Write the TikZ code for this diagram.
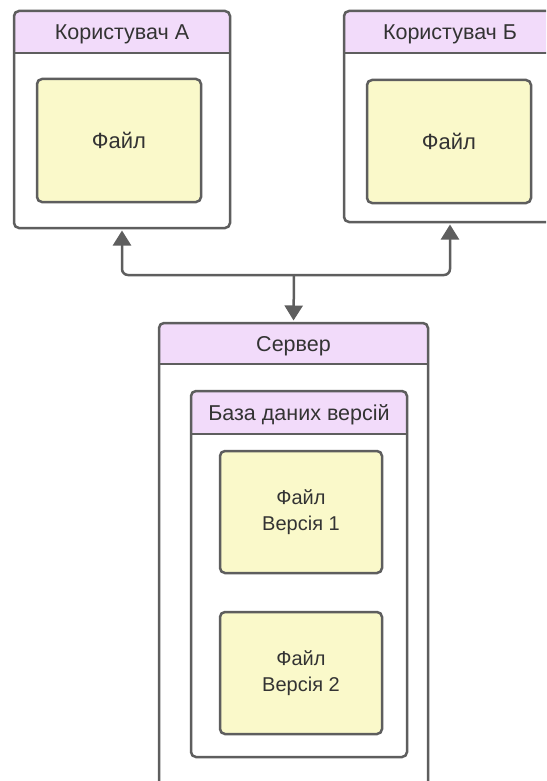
\documentclass[tikz,border=0pt]{standalone}
\usepackage{fontspec}
\setmainfont{Liberation Sans}
\usetikzlibrary{arrows.meta}

\definecolor{edge}{HTML}{5E5E5E}
\definecolor{headfill}{HTML}{F2DBFA}
\definecolor{filefill}{HTML}{FAF9CA}
\definecolor{ink}{HTML}{333333}

\tikzset{
  boxline/.style={draw=edge, line width=2.5pt, rounded corners=5pt,
    inner sep=0pt, outer sep=0pt, anchor=north west},
  % container with a lavender title band of height #1
  container/.style={boxline, fill=white,
    path picture={\fill[headfill] (path picture bounding box.north west)
      rectangle ([yshift=-#1]path picture bounding box.north east);}},
  title/.style={anchor=north, inner sep=0pt, outer sep=0pt, text=ink,
    text depth=0pt, font=\fontsize{21.5}{25}\selectfont},
  filebox/.style={boxline, fill=filefill, text=ink, align=center,
    font=\fontsize{22}{26}\selectfont},
  verbox/.style={filebox, font=\fontsize{20}{25.5}\selectfont},
  sep/.style={draw=edge, line width=2.5pt},
  link/.style={draw=edge, line width=2.5pt, rounded corners=6pt,
    -{Triangle[width=18pt,length=15pt]}, shorten >=2.5pt},
}

\begin{document}
\begin{tikzpicture}[x=1pt, y=-1pt]
\useasboundingbox (0,0) rectangle (546,781);
\clip (0,0) rectangle (546,781);

% user A
\node[container=42pt, minimum width=216pt, minimum height=217pt] (ua) at (14,11) {};
\node[title, minimum width=216pt, minimum height=42pt] (uat) at (ua.north) {Користувач А};
\draw[sep] (ua.west |- uat.south) -- (ua.east |- uat.south);
\node[filebox, minimum width=164pt, minimum height=123pt] (fa) at (37,79) {Файл};

% user B
\node[container=42pt, minimum width=212pt, minimum height=211pt] (ub) at (344,11) {};
\node[title, minimum width=212pt, minimum height=42pt] (ubt) at (ub.north) {Користувач Б};
\draw[sep] (ub.west |- ubt.south) -- (ub.east |- ubt.south);
\node[filebox, minimum width=164pt, minimum height=123pt] (fb) at (367,80) {Файл};

% server
\node[container=41pt, minimum width=269pt, minimum height=480pt] (srv) at (159,323) {};
\node[title, minimum width=269pt, minimum height=41pt] (srvt) at (srv.north) {Сервер};
\draw[sep] (srv.west |- srvt.south) -- (srv.east |- srvt.south);

% version database
\node[container=43pt, minimum width=216pt, minimum height=366pt] (db) at (191,391) {};
\node[title, minimum width=216pt, minimum height=43pt] (dbt) at (db.north) {База даних версій};
\draw[sep] (db.west |- dbt.south) -- (db.east |- dbt.south);

\node[verbox, minimum width=162pt, minimum height=122pt] (v1) at (220,451) {Файл\\Версія 1};
\node[verbox, minimum width=162pt, minimum height=122pt] (v2) at (220,612) {Файл\\Версія 2};

% connectors
\coordinate (hub) at (294,275);
\draw[link] (hub) -| (ua.south);
\draw[link] (hub) -| (ub.south);
\draw[link] (hub) -- (srv.north);
\end{tikzpicture}
\end{document}
